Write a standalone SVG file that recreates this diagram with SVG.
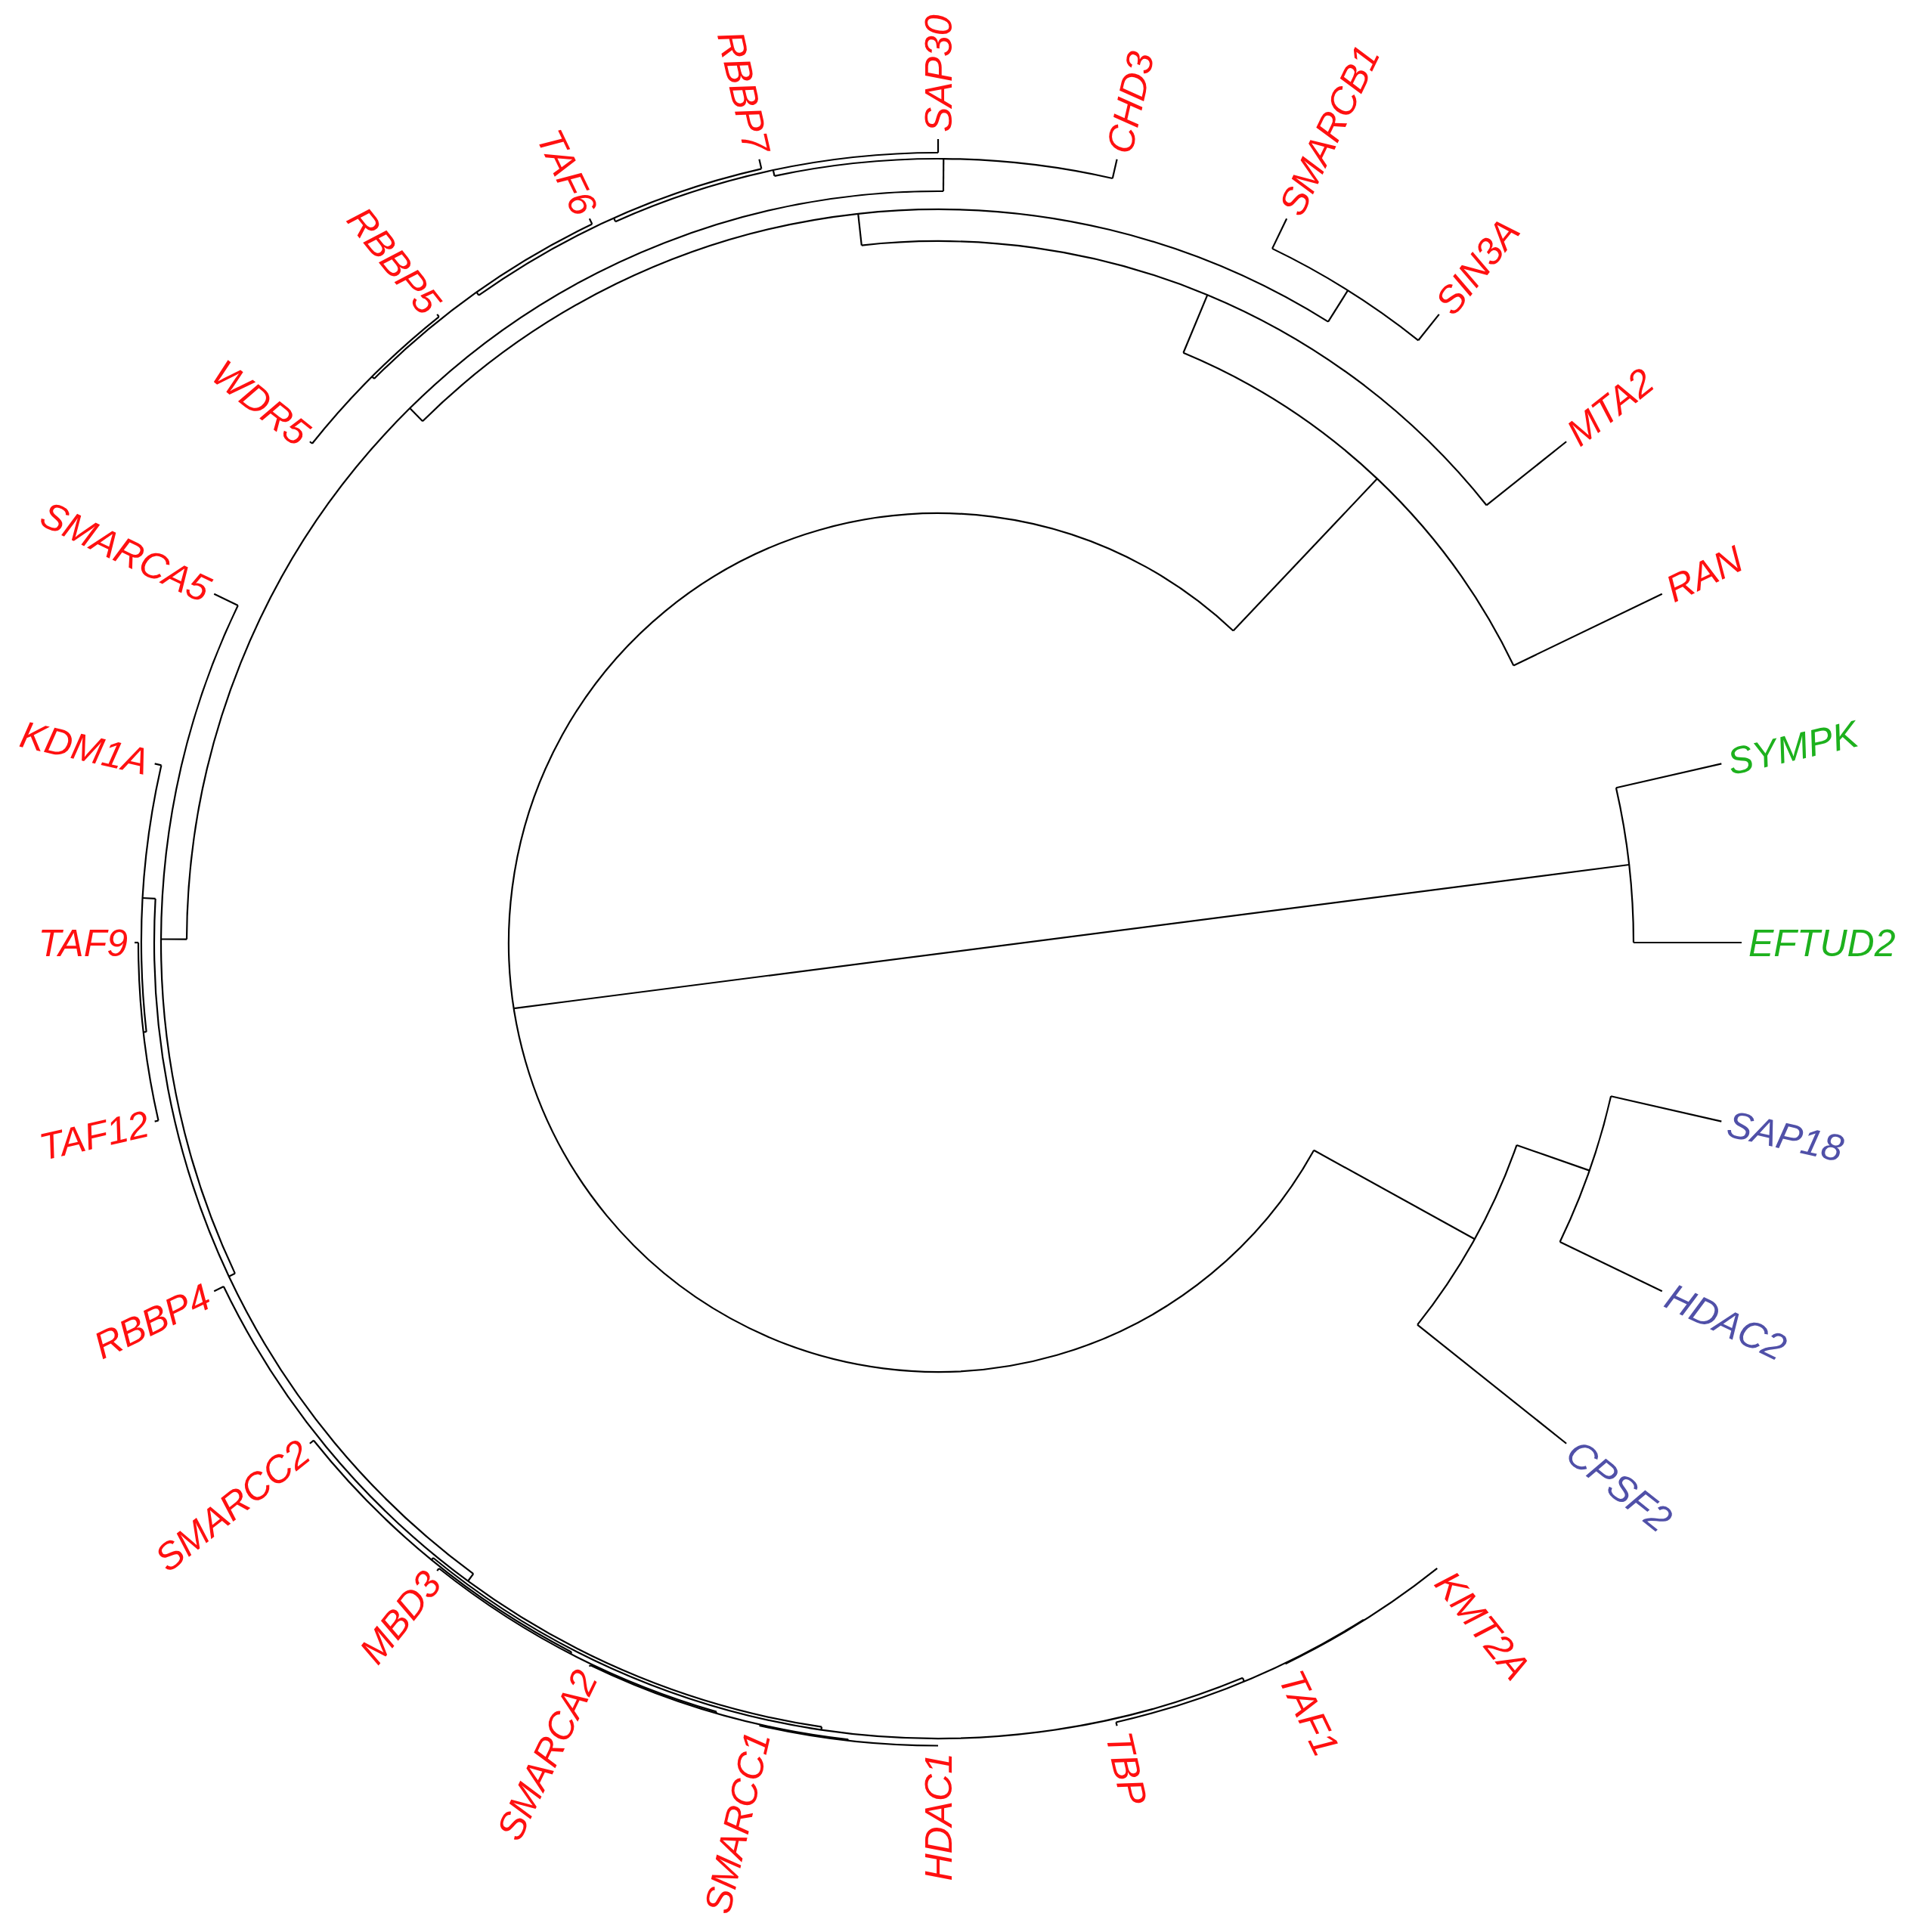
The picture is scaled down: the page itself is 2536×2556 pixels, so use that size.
<svg xmlns="http://www.w3.org/2000/svg" width="2536" height="2556" viewBox="0 0 2536 2556">
<style>
.e{fill:none;stroke:#000;stroke-width:2.2}
.a{fill:none;stroke:#000;stroke-width:2.2}
text{font-family:"Liberation Sans",Arial,sans-serif;font-style:italic;font-size:50px}
.r{fill:#FF1010}
.g{fill:#1DB11D}
.b{fill:#5050A8}
.f{text-anchor:end}
</style>
<rect width="2536" height="2556" fill="#fff"/>
<g id="connectors" transform="translate(1241,1247)">
<!-- root edge joining the two main clades -->
<line class="e" x1="-561.3" y1="87.1" x2="914.2" y2="-103.0"/>
<!-- radial branches -->
<g class="e">
<line x1="920" x2="1063" transform="rotate(347.14)"/>
<line x1="920" x2="1063" transform="rotate(0)"/>
<line x1="568" x2="811" transform="rotate(28.93)"/>
<line x1="568" x2="845" transform="rotate(313.43)"/>
<line x1="811" x2="913" transform="rotate(19.29)"/>
<line x1="811" x2="1063" transform="rotate(38.57)"/>
<line x1="913" x2="1063" transform="rotate(12.86)"/>
<line x1="913" x2="1063" transform="rotate(25.71)"/>
<line x1="845" x2="1063" transform="rotate(334.29)"/>
<line x1="845" x2="928" transform="rotate(292.58)"/>
<line x1="928" x2="1063" transform="rotate(321.43)"/>
<line x1="928" x2="970" transform="rotate(263.74)"/>
<line x1="970" x2="1019" transform="rotate(302.14)"/>
<line x1="970" x2="994" transform="rotate(225.33)"/>
<line x1="1019" x2="1063" transform="rotate(295.71)"/>
<line x1="1019" x2="1063" transform="rotate(308.57)"/>
<line x1="994" x2="1028" transform="rotate(180.25)"/>
<line x1="994" x2="1037" transform="rotate(270.40)"/>
<line x1="1037" x2="1063" transform="rotate(282.86)"/>
<line x1="1037" x2="1045" transform="rotate(257.95)"/>
<line x1="1045" x2="1063" transform="rotate(270)"/>
<line x1="1045" x2="1050" transform="rotate(245.89)"/>
<line x1="1050" x2="1063" transform="rotate(257.14)"/>
<line x1="1050" x2="1055" transform="rotate(234.64)"/>
<line x1="1055" x2="1063" transform="rotate(244.29)"/>
<line x1="1055" x2="1059" transform="rotate(225)"/>
<line x1="1059" x2="1063" transform="rotate(231.43)"/>
<line x1="1059" x2="1063" transform="rotate(218.57)"/>
<line x1="1028" x2="1063" transform="rotate(205.71)"/>
<line x1="1028" x2="1037" transform="rotate(154.79)"/>
<line x1="1037" x2="1054" transform="rotate(183.21)"/>
<line x1="1037" x2="1049" transform="rotate(126.36)"/>
<line x1="1054" x2="1063" transform="rotate(192.86)"/>
<line x1="1054" x2="1058" transform="rotate(173.57)"/>
<line x1="1058" x2="1063" transform="rotate(180)"/>
<line x1="1058" x2="1063" transform="rotate(167.14)"/>
<line x1="1049" x2="1063" transform="rotate(154.29)"/>
<line x1="1049" x2="1053" transform="rotate(98.44)"/>
<line x1="1053" x2="1056.5" transform="rotate(129.37)"/>
<line x1="1053" x2="1058" transform="rotate(67.5)"/>
<line x1="1056.5" x2="1063" transform="rotate(141.43)"/>
<line x1="1056.5" x2="1059" transform="rotate(117.32)"/>
<line x1="1059" x2="1063" transform="rotate(128.57)"/>
<line x1="1059" x2="1061" transform="rotate(106.07)"/>
<line x1="1061" x2="1063" transform="rotate(115.71)"/>
<line x1="1061" x2="1062.5" transform="rotate(96.43)"/>
<line x1="1058" x2="1063" transform="rotate(77.14)"/>
<line x1="1058" x2="1059" transform="rotate(57.86)"/>
</g>
<!-- arcs -->
<g class="a">
<circle r="920" pathLength="360" stroke-dasharray="12.86 400" transform="rotate(347.14)"/>
<circle r="568" pathLength="360" stroke-dasharray="284.5 400" transform="rotate(28.93)"/>
<circle r="811" pathLength="360" stroke-dasharray="19.28 400" transform="rotate(19.29)"/>
<circle r="913" pathLength="360" stroke-dasharray="12.85 400" transform="rotate(12.86)"/>
<circle r="845" pathLength="360" stroke-dasharray="41.71 400" transform="rotate(292.58)"/>
<circle r="928" pathLength="360" stroke-dasharray="57.69 400" transform="rotate(263.74)"/>
<circle r="970" pathLength="360" stroke-dasharray="76.81 400" transform="rotate(225.33)"/>
<circle r="1019" pathLength="360" stroke-dasharray="12.86 400" transform="rotate(295.71)"/>
<circle r="994" pathLength="360" stroke-dasharray="90.15 400" transform="rotate(180.25)"/>
<circle r="1037" pathLength="360" stroke-dasharray="24.91 400" transform="rotate(257.95)"/>
<circle r="1045" pathLength="360" stroke-dasharray="24.11 400" transform="rotate(245.89)"/>
<circle r="1050" pathLength="360" stroke-dasharray="22.5 400" transform="rotate(234.64)"/>
<circle r="1055" pathLength="360" stroke-dasharray="19.29 400" transform="rotate(225)"/>
<circle r="1059" pathLength="360" stroke-dasharray="12.86 400" transform="rotate(218.57)"/>
<circle r="1028" pathLength="360" stroke-dasharray="50.92 400" transform="rotate(154.79)"/>
<circle r="1037" pathLength="360" stroke-dasharray="56.85 400" transform="rotate(126.36)"/>
<circle r="1054" pathLength="360" stroke-dasharray="19.29 400" transform="rotate(173.57)"/>
<circle r="1058" pathLength="360" stroke-dasharray="12.86 400" transform="rotate(167.14)"/>
<circle r="1049" pathLength="360" stroke-dasharray="55.85 400" transform="rotate(98.44)"/>
<circle r="1053" pathLength="360" stroke-dasharray="61.87 400" transform="rotate(67.5)"/>
<circle r="1056.5" pathLength="360" stroke-dasharray="24.11 400" transform="rotate(117.32)"/>
<circle r="1059" pathLength="360" stroke-dasharray="22.5 400" transform="rotate(106.07)"/>
<circle r="1061" pathLength="360" stroke-dasharray="19.28 400" transform="rotate(96.43)"/>
<circle r="1062.5" pathLength="360" stroke-dasharray="12.86 400" transform="rotate(90)"/>
<circle r="1058" pathLength="360" stroke-dasharray="19.28 400" transform="rotate(57.86)"/>
<circle r="1059" pathLength="360" stroke-dasharray="12.86 400" transform="rotate(51.43)"/>
</g>
</g>
<g id="labels">
<g id="leaf-EFTUD2" transform="translate(1241,1247) rotate(0)"><text class="g" x="1072" dy="0.35em">EFTUD2</text></g>
<g id="leaf-SYMPK" transform="translate(1241,1247) rotate(-12.86)"><text class="g" x="1072" dy="0.35em">SYMPK</text></g>
<g id="leaf-RAN" transform="translate(1241,1247) rotate(-25.71)"><text class="r" x="1072" dy="0.35em">RAN</text></g>
<g id="leaf-MTA2" transform="translate(1241,1247) rotate(-38.57)"><text class="r" x="1072" dy="0.35em">MTA2</text></g>
<g id="leaf-SIN3A" transform="translate(1241,1247) rotate(-51.43)"><text class="r" x="1072" dy="0.35em">SIN3A</text></g>
<g id="leaf-SMARCB1" transform="translate(1241,1247) rotate(-64.29)"><text class="r" x="1072" dy="0.35em">SMARCB1</text></g>
<g id="leaf-CHD3" transform="translate(1241,1247) rotate(-77.14)"><text class="r" x="1072" dy="0.35em">CHD3</text></g>
<g id="leaf-SAP30" transform="translate(1241,1247) rotate(-90)"><text class="r" x="1072" dy="0.35em">SAP30</text></g>
<g id="leaf-RBBP7" transform="translate(1241,1247) rotate(77.14)"><text class="r f" x="-1072" dy="0.35em">RBBP7</text></g>
<g id="leaf-TAF6" transform="translate(1241,1247) rotate(64.29)"><text class="r f" x="-1072" dy="0.35em">TAF6</text></g>
<g id="leaf-RBBP5" transform="translate(1241,1247) rotate(51.43)"><text class="r f" x="-1072" dy="0.35em">RBBP5</text></g>
<g id="leaf-WDR5" transform="translate(1241,1247) rotate(38.57)"><text class="r f" x="-1072" dy="0.35em">WDR5</text></g>
<g id="leaf-SMARCA5" transform="translate(1241,1247) rotate(25.71)"><text class="r f" x="-1072" dy="0.35em">SMARCA5</text></g>
<g id="leaf-KDM1A" transform="translate(1241,1247) rotate(12.86)"><text class="r f" x="-1072" dy="0.35em">KDM1A</text></g>
<g id="leaf-TAF9" transform="translate(1241,1247) rotate(0)"><text class="r f" x="-1072" dy="0.35em">TAF9</text></g>
<g id="leaf-TAF12" transform="translate(1241,1247) rotate(-12.86)"><text class="r f" x="-1072" dy="0.35em">TAF12</text></g>
<g id="leaf-RBBP4" transform="translate(1241,1247) rotate(-25.71)"><text class="r f" x="-1072" dy="0.35em">RBBP4</text></g>
<g id="leaf-SMARCC2" transform="translate(1241,1247) rotate(-38.57)"><text class="r f" x="-1072" dy="0.35em">SMARCC2</text></g>
<g id="leaf-MBD3" transform="translate(1241,1247) rotate(-51.43)"><text class="r f" x="-1072" dy="0.35em">MBD3</text></g>
<g id="leaf-SMARCA2" transform="translate(1241,1247) rotate(-64.29)"><text class="r f" x="-1072" dy="0.35em">SMARCA2</text></g>
<g id="leaf-SMARCC1" transform="translate(1241,1247) rotate(-77.14)"><text class="r f" x="-1072" dy="0.35em">SMARCC1</text></g>
<g id="leaf-HDAC1" transform="translate(1241,1247) rotate(-90)"><text class="r f" x="-1072" dy="0.35em">HDAC1</text></g>
<g id="leaf-TBP" transform="translate(1241,1247) rotate(77.14)"><text class="r" x="1072" dy="0.35em">TBP</text></g>
<g id="leaf-TAF1" transform="translate(1241,1247) rotate(64.29)"><text class="r" x="1072" dy="0.35em">TAF1</text></g>
<g id="leaf-KMT2A" transform="translate(1241,1247) rotate(51.43)"><text class="r" x="1072" dy="0.35em">KMT2A</text></g>
<g id="leaf-CPSF2" transform="translate(1241,1247) rotate(38.57)"><text class="b" x="1072" dy="0.35em">CPSF2</text></g>
<g id="leaf-HDAC2" transform="translate(1241,1247) rotate(25.71)"><text class="b" x="1072" dy="0.35em">HDAC2</text></g>
<g id="leaf-SAP18" transform="translate(1241,1247) rotate(12.86)"><text class="b" x="1072" dy="0.35em">SAP18</text></g>
</g>
</svg>
